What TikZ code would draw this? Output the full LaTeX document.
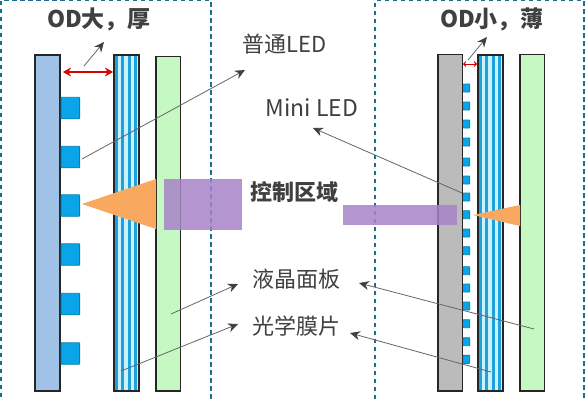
\documentclass[tikz,border=0pt]{standalone}
\usepackage{fontspec}
\setmainfont{Noto Sans CJK SC}
\usetikzlibrary{arrows.meta,calc}
\definecolor{txt}{HTML}{404040}
\definecolor{dashc}{HTML}{1F6E8C}
\definecolor{ledc}{HTML}{0AA5E8}
\definecolor{ledb}{HTML}{0A7FB0}
\definecolor{stripec}{HTML}{22A0DC}
\definecolor{lightc}{HTML}{C8F2FC}
\definecolor{purplec}{HTML}{A883C8}
\definecolor{conec}{HTML}{F9A85F}
\definecolor{bluep}{HTML}{A0C2E6}
\definecolor{greenp}{HTML}{C6F8C4}
\definecolor{grayp}{HTML}{BBBBBB}
\tikzset{
  x=1pt,y=-1pt,
  panel/.style={draw=black!85,line width=1.1pt,inner sep=0pt},
  led/.style={draw=ledb,line width=0.9pt,fill=ledc,rounded corners=0.5pt,inner sep=0pt},
  zone/.style={draw=dashc,line width=1.1pt,dash pattern=on 4.5pt off 3.5pt,inner sep=0pt},
  note/.style={draw=black!60,line width=0.8pt,-{Stealth[length=10pt,width=9pt,color=txt]}},
  gauge/.style={draw=red!85!black,line width=1.5pt,{Stealth[length=8pt,width=9pt]}-{Stealth[length=8pt,width=9pt]}},
  lab/.style={text=txt,font=\fontsize{22}{26}\selectfont,inner sep=0pt,anchor=center},
  head/.style={text=txt,font=\fontsize{23}{27}\selectfont\bfseries,inner sep=0pt,anchor=center},
  purple/.style={fill=purplec,fill opacity=0.85,inner sep=0pt},
  cone/.style={fill=conec}
}
\newcommand{\stripedpanel}[2]{%
  \fill[lightc] (#1,55) rectangle (#1+25,391);
  \foreach \d in {1,7.3,13.8,20.3}{\fill[stripec] (#1+\d,55) rectangle (#1+\d+3,391);}
  \node[panel,minimum width=25pt,minimum height=336pt] (#2) at (#1+12.5,223) {};
}
\begin{document}
\begin{tikzpicture}
\useasboundingbox (0,0) rectangle (587,400);
\fill[white] (0,0) rectangle (587,400);
% left panels
\node[panel,fill=bluep,minimum width=25pt,minimum height=336pt] (bl) at (47.5,223) {};
\stripedpanel{114}{sl}
\node[panel,fill=greenp,minimum width=24.5pt,minimum height=334.5pt] (gl) at (168.2,223.7) {};
% right panels
\node[panel,fill=grayp,minimum width=24.5pt,minimum height=336.5pt] (gr) at (450.2,222.7) {};
\stripedpanel{478}{sr}
\node[panel,fill=greenp,minimum width=24.5pt,minimum height=336.5pt] (gnr) at (532.2,222.7) {};
% leds left
\foreach \n/\yy in {1/108,2/157,3/205.5,4/254.5,5/304,6/353.5}{
  \node[led,minimum width=18.5pt,minimum height=21.5pt] (l\n) at (70.3,\yy) {};
}
% leds right
\foreach \n/\yy in {1/88,2/106,3/124,4/142,5/162,6/180,7/197,8/214.7,9/233,10/250.7,11/270.7,12/288,13/306,14/323.7,15/341.7,16/359.3}{
  \node[led,minimum width=6.5pt,minimum height=8pt] (r\n) at (466.5,\yy) {};
}
% cones
\coordinate (cla) at (82,204);
\fill[cone] (cla) -- (156,179) -- (156,229) -- cycle;
\coordinate (cra) at (473,215);
\fill[cone] (cra) -- (520,205) -- (520,226) -- cycle;
% zones
\node[zone,minimum width=210pt,minimum height=420pt] (zl) at (106,210.5) {};
\node[zone,minimum width=209pt,minimum height=420pt] (zr) at (479.5,210.5) {};
% purple
\node[purple,minimum width=78pt,minimum height=51pt] (pl) at (203,204.5) {};
\node[purple,minimum width=114.5pt,minimum height=20pt] (pr) at (400.2,215) {};
% labels
\node[head] (odl) at (99,19) {OD大，厚};
\node[head] (odr) at (492,19) {OD小，薄};
\node[lab] (t1) at (285,44) {普通LED};
\node[lab,font=\fontsize{23}{27}\selectfont] (t2) at (312,108) {Mini LED};
\node[lab,font=\fontsize{22}{26}\selectfont\bfseries] (t3) at (294,192) {控制区域};
\node[lab] (t4) at (296,279) {液晶面板};
\node[lab] (t5) at (296,326) {光学膜片};
% connector ends
\coordinate (a1) at (84,66);   \coordinate (a2) at (104,42);
\coordinate (a3) at (468,60);  \coordinate (a4) at (487,37);
\coordinate (b1) at (82,159);  \coordinate (b2) at (245,70);
\coordinate (c1) at (462,193); \coordinate (c2) at (313,128);
\coordinate (d1) at (171,314); \coordinate (d2) at (238,284);
\coordinate (e1) at (121,371); \coordinate (e2) at (238,324);
\coordinate (f1) at (534,329); \coordinate (f2) at (359,283);
\coordinate (g1) at (491,372); \coordinate (g2) at (350,333);
\coordinate (h1) at (63,72);   \coordinate (h2) at (113,72);
\coordinate (i1) at (463,64);  \coordinate (i2) at (477,64);
\draw[note] (a1) -- (a2);
\draw[note] (a3) -- (a4);
\draw[note] (b1) -- (b2);
\draw[note] (c1) -- (c2);
\draw[note] (d1) -- (d2);
\draw[note] (e1) -- (e2);
\draw[note] (f1) -- (f2);
\draw[note] (g1) -- (g2);
\draw[gauge] (h1) -- (h2);
\draw[draw=red!85!black,line width=1pt,{Stealth[length=3pt,width=6pt]}-{Stealth[length=3pt,width=6pt]}] (i1) -- (i2);
\end{tikzpicture}
\end{document}
